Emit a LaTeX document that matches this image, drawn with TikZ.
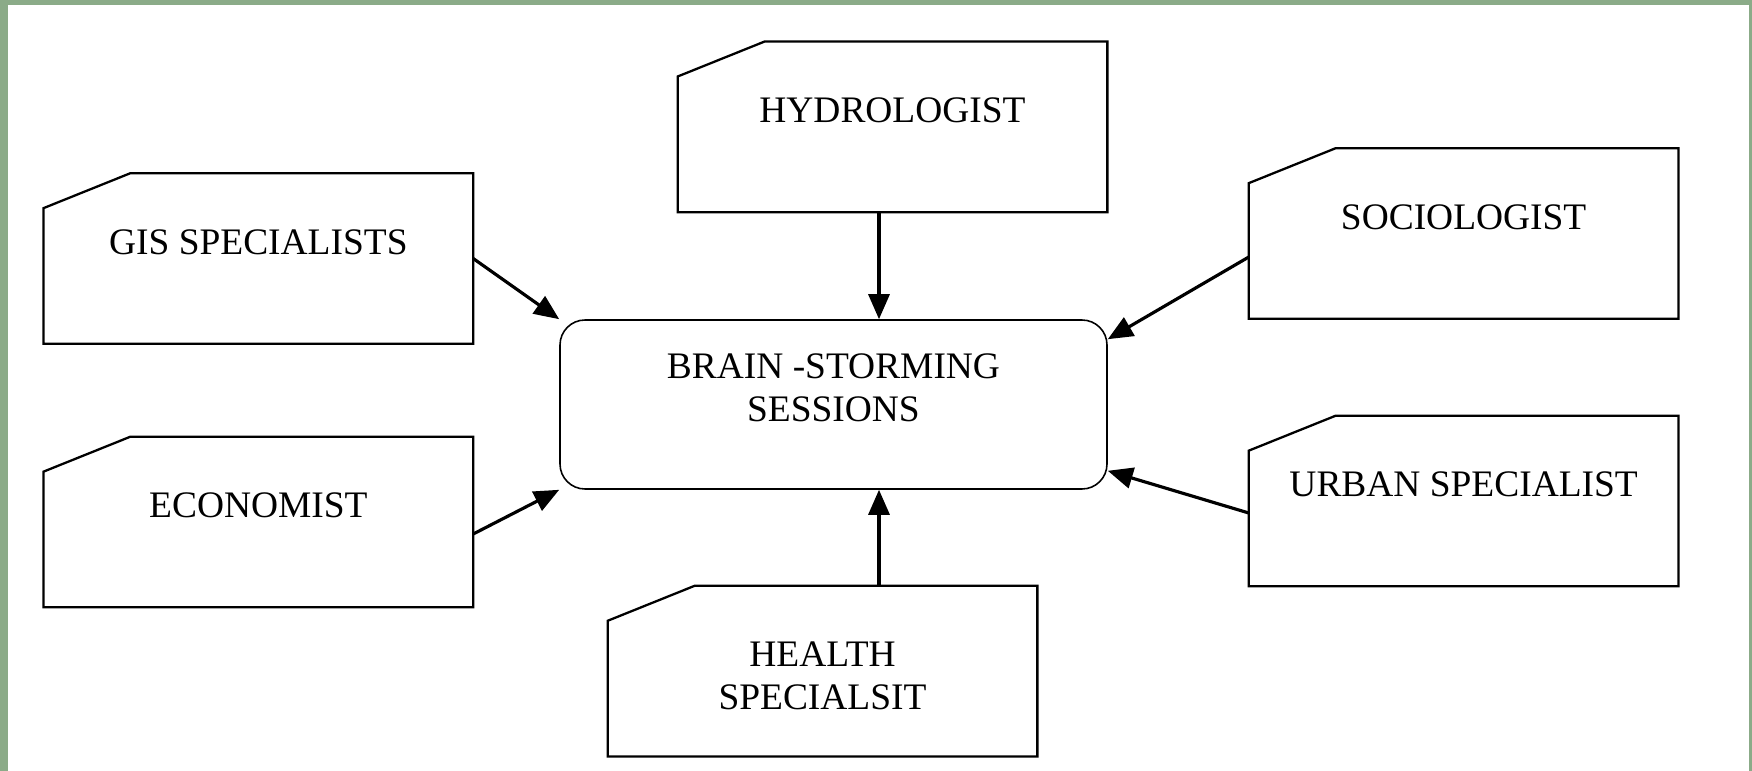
\documentclass[tikz,border=0pt]{standalone}
\usepackage{fontspec}
\setmainfont{Liberation Serif}
\usetikzlibrary{arrows.meta,positioning}
\definecolor{Frame}{HTML}{8BAB88}
\definecolor{Ink}{HTML}{000000}
\newcommand\topgap{\rule{0pt}{19.5pt}}

\begin{document}
\begin{tikzpicture}[
  every node/.style={font=\fontsize{21.3pt}{24.4pt}\selectfont},
  card/.style={minimum width=8.58cm,minimum height=3.4cm,align=center,inner sep=0pt},
  hub/.style={rounded corners=0.5cm,draw=Ink,line width=0.9pt,minimum width=10.94cm,minimum height=3.38cm,align=center,inner sep=0pt},
  edge/.style={line width=1.3pt,draw=Ink},
  arrow/.style={-{Triangle[length=0.5cm,width=0.42cm]},line width=1.8pt,draw=Ink}
]
% frame
\fill[Frame] (0,0) rectangle (35.04,-15.42);
\fill[white] (0.16,-0.1) rectangle (34.98,-15.42);

\node[hub] (hub) at (16.67,-8.09) {\topgap BRAIN -STORMING\\SESSIONS\\\mbox{}};
\node[card,above=2.14cm of hub,xshift=1.18cm] (hydro) {\topgap HYDROLOGIST\\\mbox{}};
\node[card,below=1.92cm of hub,xshift=-0.22cm] (health) {\topgap HEALTH\\SPECIALSIT};
\node[card,left=1.72cm of hub,yshift=2.92cm] (gis) {\topgap GIS SPECIALISTS\\\mbox{}};
\node[card,left=1.72cm of hub,yshift=-2.35cm] (econ) {\topgap ECONOMIST\\\mbox{}};
\node[card,right=2.82cm of hub,yshift=3.42cm] (soc) {\topgap SOCIOLOGIST\\\mbox{}};
\node[card,right=2.82cm of hub,yshift=-1.93cm] (urban) {\topgap URBAN SPECIALIST\\\mbox{}};

% cards with the cut corner
\foreach \n in {hydro,health,gis,econ,soc,urban}
  \draw[edge] ([yshift=-0.7cm]\n.north west) -- ([xshift=1.74cm]\n.north west) -- (\n.north east)
    -- (\n.south east) -- (\n.south west) -- cycle;

\coordinate (vcol) at ([xshift=0.91cm]hub.center);
\draw[arrow] (hydro.south -| vcol) -- (hub.north -| vcol);
\draw[arrow] (health.north -| vcol) -- (hub.south -| vcol);
\draw[arrow] (gis.east) -- (hub.north west);
\draw[arrow] ([yshift=-0.24cm]econ.east) -- (hub.south west);
\draw[arrow] ([yshift=-0.47cm]soc.west) -- ([yshift=-0.4cm]hub.north east);
\draw[arrow] ([yshift=-0.24cm]urban.west) -- ([yshift=0.38cm]hub.south east);
\end{tikzpicture}
\end{document}
